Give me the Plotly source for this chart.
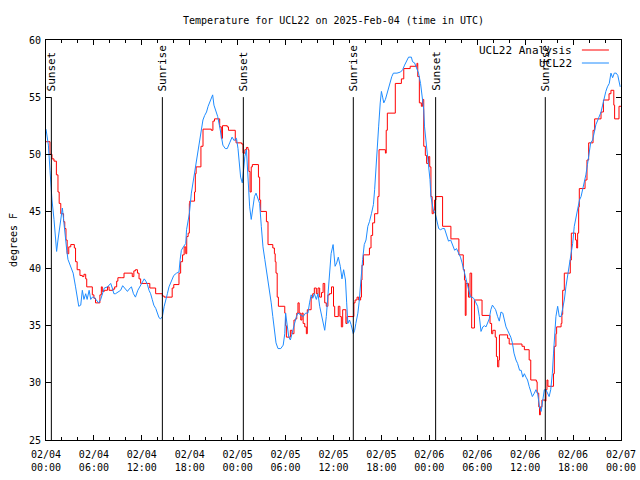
import plotly.graph_objects as go

# ---------------- data ----------------
obs_hours = [0.0, 0.3, 0.5, 0.6, 0.75, 1.0, 1.2, 1.33, 1.5, 1.75, 2.05, 2.2, 2.35, 2.6, 2.75, 3.1, 3.4, 3.7, 3.9, 4.1,
             4.35, 4.55, 4.75, 4.97, 5.15, 5.4, 5.6, 5.8, 6.0, 6.2, 6.4, 6.6, 6.85, 7.05, 7.3, 7.7, 7.9, 8.1, 8.3, 8.5,
             8.7, 9.1, 9.35, 9.6, 9.8, 10.0, 10.2, 10.4, 10.7, 10.95, 11.2, 11.5, 11.85, 12.3, 12.5, 12.7, 12.9, 13.1,
             13.3, 13.5, 13.75, 13.95, 14.15, 14.35, 14.57, 14.8, 15.0, 15.2, 15.4, 15.7, 16.0, 16.35, 16.65, 16.8,
             16.95, 17.2, 17.5, 17.6, 17.8, 17.95,
             18.2, 18.4, 18.6, 18.8, 19.0, 19.25, 19.45, 19.65, 19.87, 20.1, 20.3, 20.5, 20.7, 20.87, 21.03, 21.3,
             21.5, 21.75, 21.95, 22.15, 22.45, 22.7, 23.0, 23.3, 23.55, 23.85, 24.04, 24.25, 24.37, 24.58, 24.7, 24.9,
             25.1, 25.2, 25.38, 25.5, 25.7, 25.9, 26.1, 26.3, 26.5, 26.75, 26.96, 27.17, 27.4, 27.6, 27.8, 28.0, 28.2,
             28.4, 28.6, 28.8, 29.05, 29.4, 29.7, 29.9, 30.0, 30.2, 30.4, 30.6, 30.8, 31.05, 31.35, 31.55, 31.9, 32.2,
             32.5, 32.8, 33.0, 33.2, 33.4, 33.6, 33.85, 34.06, 34.27, 34.5, 34.7, 34.9, 35.1, 35.3, 35.5, 35.7, 35.95,
             36.0, 36.2, 36.4, 36.6, 36.85, 37.06, 37.27, 37.5, 37.65, 37.8, 38.0, 38.2, 38.48, 38.65, 38.8, 39.05,
             39.2, 39.45, 39.65, 39.85, 40.07, 40.3, 40.5, 40.75, 41.0, 41.15, 41.3, 41.5, 41.65, 41.85, 42.0, 42.15,
             42.3, 42.5, 42.7, 42.9, 43.1, 43.3, 43.5, 43.95, 44.4, 44.66, 44.9, 45.2, 45.4, 45.75, 45.9, 46.15, 46.45,
             46.65, 46.9, 47.1, 47.3, 47.4, 47.6, 47.75, 47.9, 48.08, 48.2, 48.33, 48.5, 48.75, 48.96, 49.17, 49.4,
             49.66, 49.9, 50.2, 50.4, 50.67, 50.9, 51.17, 51.4, 51.7, 51.9, 52.1, 52.3, 52.5, 52.7, 52.9, 53.15,
             53.35, 53.55, 53.84,
             54.05, 54.26, 54.47, 54.7, 54.9, 55.1, 55.3, 55.5, 55.7, 55.9, 56.1, 56.3, 56.55, 56.76, 56.97, 57.2,
             57.4, 57.6, 57.8, 58.0, 58.2, 58.4, 58.6, 58.85, 59.05, 59.3, 59.5, 59.7, 59.9, 60.1, 60.3, 60.5, 60.7,
             60.9, 61.15, 61.35, 61.55, 61.8, 62.0, 62.2, 62.4, 62.6, 62.8, 63.0, 63.2, 63.4, 63.55, 63.7, 63.85,
             64.07, 64.27, 64.5, 64.7, 64.9, 65.1, 65.3, 65.5, 65.7, 65.95, 66.15, 66.36, 66.6, 66.8, 67.0, 67.2,
             67.4, 67.6, 67.8, 68.0, 68.2, 68.45, 68.66, 68.86, 69.1, 69.3, 69.5, 69.7, 69.9, 70.1, 70.3, 70.53,
             70.74, 70.95, 71.16, 71.4, 71.6, 71.7, 71.9]
obs_temps = [52.2, 50.8, 48.6, 47.3, 46.0, 44.3, 42.8, 41.5, 42.5, 43.7, 45.3, 44.3, 43.1, 41.6, 40.8, 40.2, 39.6, 38.4, 37.3, 36.7,
             36.8, 38.1, 37.3, 37.8, 37.3, 38.1, 37.3, 37.5, 37.5, 37.3, 37.1, 37.0, 37.3, 37.8, 38.3, 38.4, 38.55, 38.7, 38.3, 37.8,
             37.8, 38.0, 38.1, 38.5, 38.3, 38.1, 38.0, 38.2, 38.4, 37.8, 37.5, 38.1, 38.6, 39.1, 38.9, 38.6, 38.1, 37.8,
             37.3, 36.8, 36.5, 36.1, 35.7, 35.6, 35.8, 36.7, 37.4, 37.8, 38.4, 38.9, 39.4, 39.6, 39.7, 40.8,
             41.6, 41.9, 42.2, 43.4, 44.1, 44.8,
             46.6, 47.5, 48.3, 49.2, 50.1, 51.1, 52.1, 53.0, 53.4, 53.7, 54.2, 54.6, 54.9, 55.2, 54.3, 53.7,
             53.3, 52.4, 51.5, 50.8, 50.5, 50.5, 51.0, 51.5, 51.2, 51.4, 50.5, 48.9, 48.0, 47.5, 48.4, 49.8,
             50.4, 49.2, 47.8, 45.4, 44.3, 45.3, 46.3, 46.6, 46.2, 45.7, 43.7, 41.9, 40.8, 39.9, 39.0, 37.8, 37.0,
             35.8, 34.3, 33.5, 33.0, 33.0, 33.3, 34.3, 36.1, 34.9, 34.0, 33.75, 34.3, 34.9, 35.8, 36.1, 35.95, 35.8,
             36.1, 36.1, 37.0, 37.7, 37.4, 37.8, 37.3, 37.8, 36.7, 35.8, 35.2, 34.6, 35.8, 37.8, 39.6, 41.3, 42.1,
             41.8, 40.2, 40.5, 41.0, 40.2, 39.1, 39.9, 39.0, 37.0, 35.2, 35.5, 35.1, 34.3, 34.6, 35.2, 36.1,
             37.0, 39.6, 40.8, 42.1, 42.5, 43.7, 44.1, 44.8, 45.6, 46.9, 48.3, 50.7, 52.4, 54.5, 55.5, 55.0,
             54.5, 54.8, 55.3, 55.9, 56.5, 56.8, 57.1, 57.1, 57.2, 57.4, 57.8, 58.25, 58.5, 58.5, 58.1, 58.0, 57.5,
             57.1, 56.2, 55.0, 53.9, 52.4, 51.0, 50.1, 49.2, 47.8, 46.3, 45.7, 45.1, 44.8, 44.25, 43.5, 43.4,
             43.5, 43.5, 42.9, 42.4, 42.5, 42.1, 41.6, 41.75, 41.3, 41.0, 40.5, 39.9, 39.3, 38.6, 38.1, 37.5,
             37.5, 37.4, 37.0,
             36.7, 35.8, 34.5, 34.9, 35.0, 34.9, 35.2, 35.6, 36.4, 36.8, 36.6, 36.4, 35.8, 35.4, 36.2, 36.1,
             35.5, 34.9, 34.6, 34.3, 34.0, 33.5, 32.6, 32.0, 31.7, 31.1, 31.1, 30.5, 30.8, 30.5, 30.25, 29.7, 29.2,
             28.8, 29.1, 29.4, 29.1, 27.9, 27.5, 28.5, 29.4, 29.4, 29.1, 28.8, 29.4, 30.8, 32.6, 34.6, 35.8,
             36.7, 35.8, 35.8, 36.4, 37.25, 38.4, 39.3, 40.2, 41.0, 42.2, 43.7, 44.5, 45.3, 46.0, 46.3, 46.9,
             47.75, 48.2, 49.1, 50.1, 51.0, 51.25, 52.1, 52.6, 53.0, 53.3, 53.7, 54.3, 55.0, 55.5, 55.9, 56.2,
             57.1, 56.7, 57.1, 57.1, 56.9, 56.5, 55.9]

ana_hours = [0.0, 0.5, 0.75, 1.0, 1.3, 1.5, 1.65, 1.85, 2.2, 2.35, 2.5, 2.65, 2.85, 3.1, 3.55, 3.7, 3.9, 4.25, 4.55, 4.75,
             4.97, 5.1, 5.8, 6.0, 6.2, 6.75, 6.93, 7.05, 7.3, 7.7, 7.9, 8.4, 8.6, 8.85, 9.0, 9.5, 9.77, 10.8, 11.0,
             11.2, 11.45, 11.65, 11.85, 13.0, 13.73, 14.57, 14.8, 15.8, 16.0, 16.65, 16.86, 17.1, 17.3, 17.5, 17.62,
             17.8, 17.95, 18.0, 18.6, 18.7, 18.8, 19.4, 19.66, 20.7, 20.9, 21.1, 21.75, 21.95, 22.1, 22.7, 22.85,
             23.54, 23.7, 23.8, 24.5, 24.67, 24.9, 25.1, 25.3, 25.4, 25.55, 25.7, 25.84, 26.6, 26.75, 26.88, 27.6,
             27.8, 28.4, 28.6, 28.7, 28.8, 28.95, 29.1, 29.9, 30.0, 30.1, 30.6, 30.8, 31.05, 31.25, 31.4, 31.55,
             31.7, 31.9, 32.05, 32.2, 32.4, 32.6, 32.72, 33.2, 33.4, 33.6, 33.85, 34.06, 34.27, 34.5, 34.7, 34.9,
             35.1, 35.3, 35.5, 35.75, 36.0, 36.15, 36.6, 36.8, 36.98, 37.15, 37.55, 37.7, 38.55, 38.7, 38.95,
             39.15, 39.4, 39.5, 39.57, 39.75, 40.5, 40.7, 40.9, 41.15, 41.55, 41.7, 42.5, 42.6, 42.74, 43.74, 44.5,
             44.8, 45.6, 46.45, 46.55, 46.75, 47.0, 47.15, 47.3, 47.5, 47.66, 47.9, 48.05, 48.2, 48.35, 48.5,
             48.66, 48.83, 49.66, 50.7, 51.7, 52.25, 52.4, 52.5, 52.6, 52.9, 53.1, 53.3, 53.65, 54.6, 55.6, 55.8,
             55.95, 56.25, 56.4, 56.55, 56.7, 56.78, 57.8, 58.0, 59.6, 59.9, 60.5, 60.7, 61.4, 61.5, 61.7, 61.8,
             61.9, 62.1, 62.5, 62.6, 62.73, 62.85, 63.55, 63.65, 63.85, 63.94, 64.5, 64.6, 64.7, 64.9, 65.65,
             65.78, 66.3, 66.45, 66.57, 66.7, 66.78, 67.5, 67.74, 67.95, 68.5, 68.7, 69.5, 69.8, 70.5, 70.74,
             71.1, 71.2, 71.75, 72.0]
ana_temps = [51.1, 50.0, 49.6, 49.4, 48.2, 46.7, 45.7, 44.8, 44.1, 43.5, 42.5, 41.3, 41.9, 42.1, 41.8, 40.6, 39.9, 39.4, 39.3, 39.5,
             39.1, 38.4, 37.7, 37.4, 37.0, 37.7, 38.4, 38.0, 38.1, 38.4, 38.1, 38.2, 38.4, 38.9, 39.2, 39.2, 39.6, 39.3, 39.8,
             39.9, 39.6, 39.1, 38.7, 38.3, 37.8, 37.6, 37.5, 38.3, 38.6, 39.6, 40.6, 41.2, 41.9, 41.3, 42.8,
             43.1, 45.7, 45.9, 46.7, 48.3, 48.9, 50.7, 52.2, 52.1, 52.9, 53.1, 52.4, 51.4, 52.5, 52.4, 52.1,
             52.1, 51.25, 51.0, 50.9, 50.1, 50.4, 50.6, 50.4, 48.5, 46.7, 48.9, 49.1, 48.0, 46.0, 45.0, 44.1,
             42.1, 41.8, 41.3, 40.6, 39.6, 37.5, 36.7, 36.1, 35.0, 34.0, 34.6, 34.3, 35.5, 35.6, 36.1, 37.0,
             36.1, 35.5, 36.1, 35.2, 34.9, 34.3, 36.4, 37.5, 37.8, 38.3, 37.8, 38.3, 37.5, 37.9, 38.7, 37.0,
             36.7, 37.7, 37.8, 38.4, 36.7, 35.8, 36.7, 35.8, 34.9, 36.4, 35.2, 35.8, 37.0, 37.25, 37.5,
             37.25, 37.5, 39.0, 40.3, 41.2, 41.8, 42.9, 44.0, 44.8, 46.3, 50.4, 50.1, 52.1, 53.6, 56.2, 56.6,
             57.5, 57.7, 57.96, 56.8, 54.5, 54.2, 54.8, 50.7, 49.9, 49.2, 49.8, 48.9, 46.3, 44.8, 45.1,
             46.0, 46.3, 43.7, 42.6, 41.2, 39.9, 39.0, 35.9, 38.7, 37.5, 39.6, 34.8, 37.25, 35.9, 35.2, 34.3,
             34.6, 34.0, 32.3, 31.4, 32.0, 34.2, 33.9, 33.4, 33.2, 32.9, 32.0, 30.25, 30.1, 29.1, 27.9, 27.2,
             27.9, 28.5, 28.4, 29.4, 30.25, 29.7, 30.8, 33.2, 34.3, 34.9, 35.2, 36.0, 38.1, 39.6, 40.75,
             43.1, 42.5, 41.8, 43.1, 45.4, 47.0, 47.75, 49.5, 51.0, 52.1, 53.1, 53.7, 54.75, 55.3, 55.6,
             54.3, 53.1, 54.2, 54.2]

sun_hours = [0.67, 14.57, 24.71, 38.48, 48.79, 62.52]
sun_labels = ["Sunset", "Sunrise", "Sunset", "Sunrise", "Sunset", "Sunrise"]

x_tick_hours = [0, 6, 12, 18, 24, 30, 36, 42, 48, 54, 60, 66, 72]
x_tick_text = ["02/04<br>00:00", "02/04<br>06:00", "02/04<br>12:00", "02/04<br>18:00",
               "02/05<br>00:00", "02/05<br>06:00", "02/05<br>12:00", "02/05<br>18:00",
               "02/06<br>00:00", "02/06<br>06:00", "02/06<br>12:00", "02/06<br>18:00",
               "02/07<br>00:00"]
x_minor_hours = list(range(0, 73, 2))
y_ticks = [25, 30, 35, 40, 45, 50, 55, 60]

series_names = ["UCL22 Analysis", "UCL22"]
series_colors = ["#ff0000", "#1e8cff"]

FONT = "DejaVu Sans Mono"

fig = go.Figure()
fig.add_trace(go.Scatter(x=ana_hours, y=ana_temps, mode="lines", line=dict(color=series_colors[0], width=1, shape="hv"),
                         name=series_names[0], showlegend=False, hoverinfo="skip"))
fig.add_trace(go.Scatter(x=obs_hours, y=obs_temps, mode="lines", line=dict(color=series_colors[1], width=1),
                         name=series_names[1], showlegend=False, hoverinfo="skip"))

for h, lab in zip(sun_hours, sun_labels):
    fig.add_shape(type="line", x0=h, x1=h, y0=25, y1=55, xref="x", yref="y",
                  line=dict(color="black", width=1))
    fig.add_annotation(x=h, y=55, xref="x", yref="y", text=lab, textangle=-90, showarrow=False,
                       xanchor="center", yanchor="bottom", yshift=4,
                       font=dict(family=FONT, size=11, color="black"))

# legend (gnuplot style: text then line sample)
for i, (nm, col) in enumerate(zip(series_names, series_colors)):
    yy = 0.975 - i * 0.0325
    fig.add_annotation(x=0.919, y=yy, xref="paper", yref="paper", text=nm, showarrow=False,
                       xanchor="right", yanchor="middle", font=dict(family=FONT, size=11, color="black"))
    fig.add_shape(type="line", x0=0.932, x1=0.979, y0=yy, y1=yy, xref="paper", yref="paper",
                  line=dict(color=col, width=1))

fig.update_layout(
    width=640, height=480,
    margin=dict(l=46, r=19, t=40, b=40, autoexpand=False),
    paper_bgcolor="white", plot_bgcolor="white",
    font=dict(family=FONT, size=10, color="black"),
    title=dict(text="Temperature for UCL22 on 2025-Feb-04 (time in UTC)", x=0.5, xref="paper",
               y=1 - 20 / 480, yref="container", xanchor="center", yanchor="middle",
               font=dict(family=FONT, size=10, color="black")),
    showlegend=False,
)
fig.update_xaxes(range=[0, 72], tickmode="array", tickvals=x_tick_hours, ticktext=x_tick_text,
                 ticks="inside", ticklen=5, tickcolor="black", showline=True, linecolor="black", linewidth=1,
                 mirror="ticks", showgrid=False, zeroline=False, automargin=False, ticklabelstandoff=5,
                 minor=dict(tickmode="array", tickvals=x_minor_hours, ticks="inside", ticklen=3, tickcolor="black"),
                 tickfont=dict(family=FONT, size=10))
fig.update_yaxes(range=[25, 60], tickmode="array", tickvals=y_ticks, ticks="inside", ticklen=5, tickcolor="black",
                 showline=True, linecolor="black", linewidth=1, mirror="ticks", showgrid=False, zeroline=False,
                 automargin=False, ticklabelstandoff=2,
                 title=dict(text="degrees F", font=dict(family=FONT, size=10), standoff=9),
                 tickfont=dict(family=FONT, size=10))

fig.write_html("out.html", config={"displayModeBar": False},
               post_script="document.body.style.margin='0';document.body.style.padding='0';")
